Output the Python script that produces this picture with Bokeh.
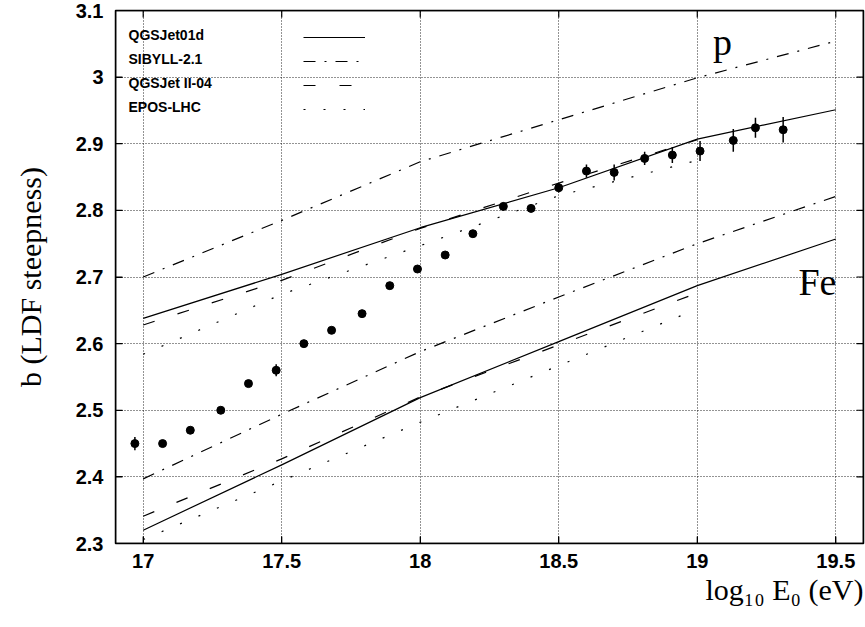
import math
from bokeh.plotting import figure
from bokeh.models import (Label, Legend, LegendItem, FixedTicker, Range1d, BoxAnnotation, Title)
from bokeh.embed import file_html
from bokeh.resources import INLINE

# ---------------- data ----------------
x_ticks = [17.0, 17.5, 18.0, 18.5, 19.0, 19.5]
x_tick_labels = ["17", "17.5", "18", "18.5", "19", "19.5"]
y_ticks = [2.3, 2.4, 2.5, 2.6, 2.7, 2.8, 2.9, 3.0, 3.1]
y_tick_labels = ["2.3", "2.4", "2.5", "2.6", "2.7", "2.8", "2.9", "3", "3.1"]

energy_long = [17.0, 17.5, 18.0, 18.5, 19.0, 19.5]
energy_short = [17.0, 17.5, 18.0, 18.5, 19.0]

qgsjet01d_p = [2.638, 2.704, 2.774, 2.834, 2.907, 2.951]
qgsjet01d_fe = [2.320, 2.418, 2.519, 2.603, 2.687, 2.757]
sibyll_p = [2.700, 2.785, 2.873, 2.936, 2.999, 3.054]
sibyll_fe = [2.397, 2.494, 2.588, 2.670, 2.750, 2.821]
qgsjet2_p = [2.628, 2.695, 2.773, 2.841, 2.906]
qgsjet2_fe = [2.341, 2.427, 2.520, 2.598, 2.676]
epos_p = [2.584, 2.674, 2.747, 2.822, 2.875]
epos_fe = [2.306, 2.394, 2.482, 2.567, 2.652]

model_names = ["QGSJet01d", "SIBYLL-2.1", "QGSJet II-04", "EPOS-LHC"]

data_lgE = [16.97, 17.07, 17.17, 17.28, 17.38, 17.48, 17.58, 17.68, 17.79, 17.89,
            17.99, 18.09, 18.19, 18.30, 18.40, 18.50, 18.60, 18.70, 18.81, 18.91,
            19.01, 19.13, 19.21, 19.31]
data_b = [2.450, 2.450, 2.470, 2.500, 2.540, 2.560, 2.600, 2.620, 2.645, 2.687,
          2.712, 2.733, 2.765, 2.806, 2.803, 2.834, 2.859, 2.857, 2.878, 2.883,
          2.889, 2.905, 2.924, 2.921]
data_err = [0.010, 0.004, 0.004, 0.004, 0.005, 0.009, 0.004, 0.004, 0.004, 0.004,
            0.004, 0.004, 0.005, 0.006, 0.006, 0.007, 0.010, 0.012, 0.010, 0.012,
            0.015, 0.017, 0.015, 0.019]

# ---------------- figure ----------------
SANS = "Liberation Sans"
SERIF = "Liberation Serif"

W, H = 865, 627
B_LEFT, B_RIGHT, B_TOP, B_BOTTOM = 115, 2, 10, 84
x_lo, x_hi = 16.9, 19.6
y_lo, y_hi = 2.3, 3.1

p = figure(width=W, height=H,
           x_range=Range1d(x_lo, x_hi), y_range=Range1d(y_lo, y_hi),
           output_backend="svg", toolbar_location=None,
           min_border_left=B_LEFT, min_border_right=B_RIGHT,
           min_border_top=B_TOP, min_border_bottom=B_BOTTOM)
p.background_fill_color = "white"
p.border_fill_color = "white"
p.outline_line_color = "black"
p.outline_line_width = 1.5

for ax in (p.xaxis[0], p.yaxis[0]):
    ax.major_tick_in = 7
    ax.major_tick_out = 0
    ax.minor_tick_line_color = None
    ax.major_tick_line_color = "black"
    ax.axis_line_color = "black"
    ax.major_label_text_font = SANS
    ax.major_label_text_font_style = "bold"
    ax.major_label_text_font_size = "20px"
    ax.major_label_text_color = "black"

p.xaxis.ticker = FixedTicker(ticks=x_ticks)
p.xaxis.major_label_overrides = dict(zip(x_ticks, x_tick_labels))
p.xaxis.major_label_standoff = 10
p.yaxis.ticker = FixedTicker(ticks=y_ticks)
p.yaxis.major_label_overrides = dict(zip(y_ticks, y_tick_labels))
p.yaxis.major_label_standoff = 12
p.yaxis.axis_label = "b (LDF steepness)"
p.yaxis.axis_label_standoff = 26
p.yaxis.axis_label_text_font = SERIF
p.yaxis.axis_label_text_font_style = "normal"
p.yaxis.axis_label_text_font_size = "30px"
p.yaxis.axis_label_text_color = "black"

# x title, right-aligned below the axis
p.add_layout(Title(text="log\u2081\u2080 E\u2080 (eV)", align="right",
                   text_font=SERIF, text_font_style="normal", text_font_size="30px",
                   text_color="black", standoff=0, offset=0), "below")

for g in (p.xgrid[0], p.ygrid[0]):
    g.grid_line_color = "black"
    g.grid_line_alpha = 0.85
    g.grid_line_dash = "1 2"
    g.grid_line_width = 1
p.xgrid.ticker = FixedTicker(ticks=x_ticks)
p.ygrid.ticker = FixedTicker(ticks=y_ticks)

# frame box around the plotting area
p.add_layout(BoxAnnotation(fill_color=None, fill_alpha=0, line_color="black",
                           line_width=1.6, line_alpha=1, level="overlay"))

# inward tick marks on all four sides (7 px long), derived from the tick lists
tick_px = 7
x_len = tick_px * (x_hi - x_lo) / (W - B_LEFT - B_RIGHT)
y_len = tick_px * (y_hi - y_lo) / (H - B_TOP - B_BOTTOM)
nx, ny = len(x_ticks), len(y_ticks)
p.segment(x0=x_ticks, y0=[y_lo] * nx, x1=x_ticks, y1=[y_lo + y_len] * nx,
          line_color="black", line_width=1.2)
p.segment(x0=x_ticks, y0=[y_hi] * nx, x1=x_ticks, y1=[y_hi - y_len] * nx,
          line_color="black", line_width=1.2)
p.segment(x0=[x_lo] * ny, y0=y_ticks, x1=[x_lo + x_len] * ny, y1=y_ticks,
          line_color="black", line_width=1.2)
p.segment(x0=[x_hi] * ny, y0=y_ticks, x1=[x_hi - x_len] * ny, y1=y_ticks,
          line_color="black", line_width=1.2)

# ---------------- model lines ----------------
styles = {
    "QGSJet01d": "solid",
    "SIBYLL-2.1": "12 9 2 9",
    "QGSJet II-04": "12 24",
    "EPOS-LHC": "2 18",
}
series = [
    ("QGSJet01d", energy_long, qgsjet01d_p, qgsjet01d_fe),
    ("SIBYLL-2.1", energy_long, sibyll_p, sibyll_fe),
    ("QGSJet II-04", energy_short, qgsjet2_p, qgsjet2_fe),
    ("EPOS-LHC", energy_short, epos_p, epos_fe),
]
legend_items = []
for name, xs, yp, yfe in series:
    r1 = p.line(xs, yp, line_color="black", line_width=1.2, line_dash=styles[name])
    p.line(xs, yfe, line_color="black", line_width=1.2, line_dash=styles[name])
    legend_items.append(LegendItem(label=" ", renderers=[r1]))

# ---------------- data points ----------------
lower = [b - e for b, e in zip(data_b, data_err)]
upper = [b + e for b, e in zip(data_b, data_err)]
p.segment(x0=data_lgE, y0=lower, x1=data_lgE, y1=upper, line_color="black", line_width=1.5)
p.scatter(data_lgE, data_b, size=8, marker="circle", fill_color="black", line_color="black")

# ---------------- legend (names left, samples right) ----------------
legend = Legend(items=legend_items, location=(188, 424), orientation="vertical",
                glyph_width=62, glyph_height=20, label_height=20, label_width=1,
                label_standoff=0, padding=0, spacing=4, margin=0,
                border_line_alpha=0, background_fill_alpha=0,
                label_text_font_size="10px")
p.add_layout(legend, "center")

legend_y = [509, 485, 461, 437]
for name, yy in zip(model_names, legend_y):
    p.add_layout(Label(x=13, y=yy, x_units="screen", y_units="screen", text=name,
                       text_font=SANS, text_font_style="bold", text_font_size="14px",
                       text_baseline="middle", text_align="left", text_color="black"))

# ---------------- in-plot labels ----------------
p.add_layout(Label(x=19.057, y=3.052, text="p", text_font=SERIF, text_font_size="38px",
                   text_baseline="alphabetic", text_align="left", text_color="black"))
p.add_layout(Label(x=19.365, y=2.693, text="Fe", text_font=SERIF, text_font_size="38px",
                   text_baseline="alphabetic", text_align="left", text_color="black"))

open("out.html", "w").write(file_html(p, INLINE))
